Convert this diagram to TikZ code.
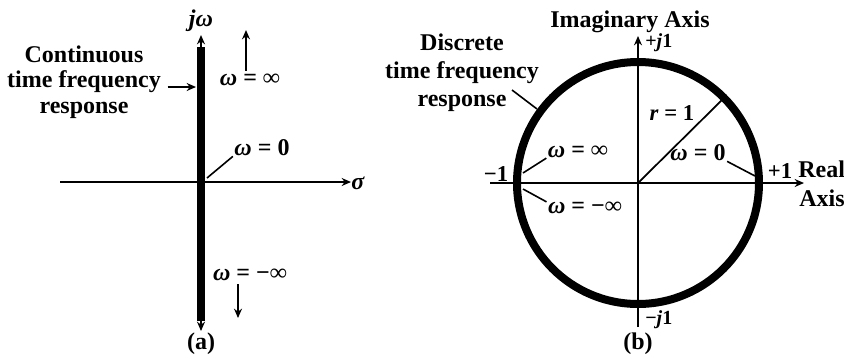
\documentclass[tikz,border=0pt]{standalone}
\usepackage{fontspec}
\setmainfont{Liberation Serif}
\usetikzlibrary{arrows.meta}
\newcommand{\om}{\textit{ω}}

\begin{document}
\begin{tikzpicture}[
  x=0.75pt, y=-0.75pt,
  >={Stealth[length=7pt,width=6pt]},
  lbl/.style={font=\fontsize{18}{19}\selectfont\bfseries, align=center, inner sep=0pt},
  mlbl/.style={font=\fontsize{15}{16}\selectfont\bfseries, inner sep=0pt},
  nlbl/.style={font=\fontsize{17}{18}\selectfont\bfseries, inner sep=0pt},
  wlbl/.style={font=\fontsize{18}{19}\selectfont\bfseries, inner sep=0pt},
  axis/.style={->, line width=2.2pt},
  thinaxis/.style={->, line width=1.5pt},
  resp/.style={line width=6pt},
  lead/.style={line width=1.2pt},
]
\useasboundingbox (0,0) rectangle (844,358);

% (a) continuous time
\coordinate (oa) at (201,182);
\coordinate (sl) at (60,182);
\coordinate (sr) at (351,182);
\coordinate (rt) at (201,47);
\coordinate (rb) at (201,321);
\coordinate (jt) at (201,35);
\coordinate (jb) at (201,331);

\draw[axis] (sl) -- (sr);
\draw[resp] (rt) -- (rb);
\draw[->, line width=2pt] (rt) -- (jt);
\draw[->, line width=2pt] (rb) -- (jb);

\node[wlbl] (sigma) at (358,183) {\textit{σ}};
\node[wlbl] (jw)    at (201,21)  {\textit{j}\om};

\node[lbl] (ctfr) at (84,82) {Continuous\\time frequency\\response};
\coordinate (ca) at (196,87);
\draw[->, lead] ([xshift=5pt]ctfr.east |- ca) -- (ca);

\node[wlbl] (winfa) at (250,80) {\om\ = ∞};
\coordinate (ua) at (246,30);
\draw[->, lead] (winfa.north -| ua) ++(0,-3) -- (ua);

\node[wlbl] (w0a) at (262,148) {\om\ = 0};
\coordinate (za) at (207,178);
\draw[lead] ([xshift=-1pt]w0a.south west) -- (za);

\node[wlbl] (wminfa) at (250,275) {\om\ = −∞};
\coordinate (da) at (238,318);
\draw[->, lead] (wminfa.south -| da) ++(0,3) -- (da);

\node[lbl] (capa) at (201,344) {(a)};

% (b) discrete time
\coordinate (ob) at (638,183);
\coordinate (xl) at (490,183);
\coordinate (xr) at (804,183);
\coordinate (yb) at (638,327);
\coordinate (yt) at (638,36);
\coordinate (rp) at (724,98);

\draw[thinaxis] (xl) -- (xr);
\draw[thinaxis] (yb) -- (yt);
\draw[resp] (ob) circle[radius=121];
\draw[line width=1.3pt] (ob) -- (rp);

\node[lbl] (imag) at (630,22) {Imaginary Axis};
\node[mlbl, anchor=west] (pj) at (645,43) {+\textit{j}1};
\node[mlbl, anchor=west] (mj) at (645,320) {−\textit{j}1};
\node[nlbl] (rone) at (672,113) {\textit{r} = 1};
\node[nlbl] (pone) at (780,171) {+1};
\node[nlbl] (mone) at (496,174) {−1};
\node[lbl, anchor=west] (real) at (798,169) {Real};
\node[lbl, anchor=west] (axs)  at (799,198) {Axis};

\node[wlbl] (w0b) at (698,153) {\om\ = 0};
\coordinate (zb) at (755,176);
\draw[lead] ([xshift=1pt]w0b.south east) -- (zb);

\node[wlbl] (winfb) at (578,152) {\om\ = ∞};
\coordinate (ib) at (523,173);
\draw[lead] ([xshift=-1pt]winfb.south west) -- (ib);

\node[wlbl] (wminfb) at (585,208) {\om\ = −∞};
\coordinate (mb) at (523,189);
\draw[lead] ([xshift=-1pt]wminfb.north west) -- (mb);

\node[lbl, font=\fontsize{18}{21}\selectfont\bfseries] (dtfr) at (462,73) {Discrete\\time frequency\\response};
\coordinate (ds) at (512,90);
\coordinate (db) at (537,109);
\draw[lead] (ds) -- (db);

\node[lbl] (capb) at (638,344) {(b)};
\end{tikzpicture}
\end{document}
